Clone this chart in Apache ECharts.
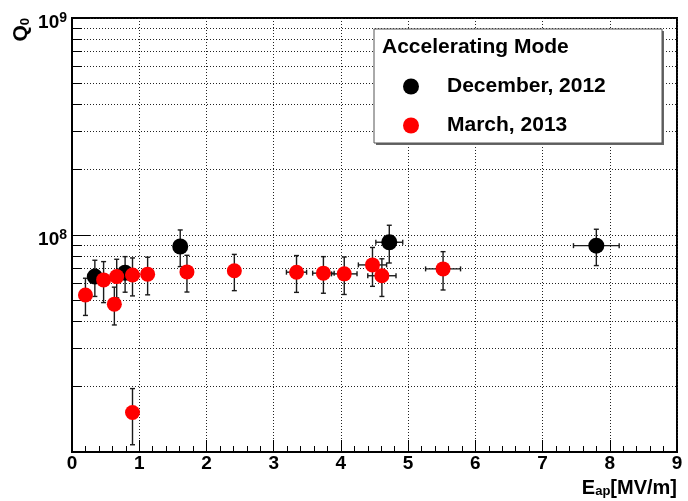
<!DOCTYPE html>
<html><head><meta charset="utf-8">
<script src="https://cdn.jsdelivr.net/npm/echarts@6/dist/echarts.min.js"></script>
<style>html,body{margin:0;padding:0;background:#fff}#c{width:688px;height:501px}</style>
</head><body><div id="c"></div>
<script>
// ---- data ----
const decName = 'December, 2012';
const decX = [0.34, 0.79, 1.61, 4.72, 7.80];
const decQ = [6.43e7, 6.7e7, 8.85e7, 9.26e7, 8.93e7];
const decXErr = [0, 0, 0, 0.20, 0.34];
const decQErr = [1.22e7, 1.25e7, 1.7e7, 1.83e7, 1.7e7];

const marName = 'March, 2013';
const marX = [0.20, 0.47, 0.63, 0.665, 0.90, 0.90, 1.125, 1.71, 2.415, 3.34, 3.74, 4.05, 4.47, 4.61, 5.52];
const marQ = [5.29e7, 6.21e7, 4.80e7, 6.43e7, 6.54e7, 1.52e7, 6.6e7, 6.76e7, 6.84e7, 6.74e7, 6.67e7, 6.62e7, 7.28e7, 6.49e7, 6.98e7];
const marXErr = [0, 0, 0, 0, 0, 0, 0, 0, 0, 0.15, 0.16, 0.19, 0.21, 0.21, 0.26];
const marQErr = [1.03e7, 1.33e7, 0.95e7, 1.3e7, 1.3e7, 0.44e7, 1.3e7, 1.3e7, 1.3e7, 1.3e7, 1.28e7, 1.3e7, 1.48e7, 1.28e7, 1.4e7];

const xMin = 0, xMax = 9, xInterval = 1;
const yMin = 1e7, yMax = 1e9;
const yMajorTicks = [1e8, 1e9];
const yMinorTicks = [2e7, 3e7, 4e7, 5e7, 6e7, 7e7, 8e7, 9e7, 2e8, 3e8, 4e8, 5e8, 6e8, 7e8, 8e8, 9e8];
const legendTitle = 'Accelerating Mode';

// ---- chart ----
const F = '"Liberation Sans", Arial, Helvetica, sans-serif';
const dotted = {color: '#222', width: 1, type: [1, 2]};

function errorBars(name, xs, ys, exs, eys) {
  return {
    type: 'custom', name: name, silent: true, z: 2,
    data: xs.map((x, i) => [x, ys[i], exs[i], eys[i]]),
    encode: {x: 0, y: 1},
    renderItem: function (params, api) {
      const x = api.value(0), y = api.value(1), ex = api.value(2), ey = api.value(3);
      const c = api.coord([x, y]);
      const t = api.coord([x, y + ey]);
      const b = api.coord([x, y - ey]);
      const st = () => ({stroke: '#1a1a1a', lineWidth: 1.4});
      const cap = 2.5;
      const ch = [
        {type: 'line', shape: {x1: c[0], y1: t[1], x2: c[0], y2: b[1]}, style: st()},
        {type: 'line', shape: {x1: c[0] - cap, y1: t[1], x2: c[0] + cap, y2: t[1]}, style: st()},
        {type: 'line', shape: {x1: c[0] - cap, y1: b[1], x2: c[0] + cap, y2: b[1]}, style: st()}
      ];
      if (ex > 0) {
        const l = api.coord([x - ex, y]), r = api.coord([x + ex, y]);
        ch.push({type: 'line', shape: {x1: l[0], y1: c[1], x2: r[0], y2: c[1]}, style: st()});
        ch.push({type: 'line', shape: {x1: l[0], y1: c[1] - cap, x2: l[0], y2: c[1] + cap}, style: st()});
        ch.push({type: 'line', shape: {x1: r[0], y1: c[1] - cap, x2: r[0], y2: c[1] + cap}, style: st()});
      }
      return {type: 'group', children: ch};
    }
  };
}

const chart = echarts.init(document.getElementById('c'), null, {renderer: 'canvas'});
chart.setOption({
  backgroundColor: '#fff',
  animation: false,
  grid: {left: 72, right: 11, top: 18, bottom: 49, show: true, borderColor: '#000', borderWidth: 2, backgroundColor: 'transparent'},
  xAxis: {
    type: 'value', min: xMin, max: xMax, interval: xInterval,
    axisLine: {show: true, onZero: false, lineStyle: {color: '#000', width: 2}},
    axisTick: {show: true, inside: true, length: 12, lineStyle: {color: '#000', width: 1}},
    minorTick: {show: true, splitNumber: 5, length: 6, lineStyle: {color: '#000', width: 1}},
    splitLine: {show: true, lineStyle: dotted},
    axisLabel: {color: '#000', fontFamily: F, fontWeight: 'bold', fontSize: 19, margin: 2}
  },
  yAxis: [{
    type: 'log', logBase: 10, min: yMin, max: yMax,
    axisLine: {show: true, lineStyle: {color: '#000', width: 2}},
    axisTick: {show: true, inside: true, length: 18, customValues: yMajorTicks, lineStyle: {color: '#000', width: 1}},
    splitLine: {show: true, lineStyle: dotted},
    axisLabel: {
      customValues: yMajorTicks, margin: 5, padding: [8, 0, 0, 0],
      formatter: function (v) { return '{b|10}{s|' + Math.round(Math.log10(v)) + '}'; },
      rich: {
        b: {fontFamily: F, fontWeight: 'bold', fontSize: 19, lineHeight: 21, verticalAlign: 'bottom', color: '#000'},
        s: {fontFamily: F, fontWeight: 'bold', fontSize: 14, lineHeight: 14, verticalAlign: 'top', color: '#000'}
      }
    }
  }, {
    type: 'log', logBase: 10, min: yMin, max: yMax, position: 'left',
    axisLine: {show: false},
    axisTick: {show: true, inside: true, length: 10, customValues: yMinorTicks, lineStyle: {color: '#000', width: 1}},
    splitLine: {show: true, lineStyle: dotted},
    axisLabel: {show: false}
  }],
  legend: {
    orient: 'vertical', left: 403, top: 76, itemWidth: 62, itemHeight: 16, itemGap: 18,
    icon: 'circle', selectedMode: false, z: 10, padding: 0,
    itemStyle: {opacity: 1},
    textStyle: {fontFamily: F, fontWeight: 'bold', fontSize: 21, color: '#000', lineHeight: 16},
    data: [decName, marName]
  },
  graphic: [
    {type: 'rect', z: 5, shape: {x: 376, y: 31, width: 288, height: 114}, style: {fill: '#666'}},
    {type: 'rect', z: 6, shape: {x: 374, y: 29, width: 288, height: 114}, style: {fill: '#fff', stroke: '#555', lineWidth: 1}},
    {type: 'text', z: 7, x: 382, y: 47, style: {text: legendTitle, fontFamily: F, fontWeight: 'bold', fontSize: 21, fill: '#000', verticalAlign: 'middle', align: 'left'}},
    {type: 'text', z: 7, x: 10.5, y: 18, rotation: Math.PI / 2, style: {
      text: '{q|Q}{s|0}', align: 'right', verticalAlign: 'top',
      rich: {
        q: {fontFamily: F, fontWeight: 'bold', fontSize: 21, lineHeight: 21, verticalAlign: 'top', fill: '#000'},
        s: {fontFamily: F, fontWeight: 'bold', fontSize: 13, lineHeight: 13, padding: [12, 0, 0, 0], verticalAlign: 'bottom', fill: '#000'}
      }}},
    {type: 'text', z: 7, x: 677, y: 478, style: {
      text: '{e|E}{s|ap}{e|[MV/m]}', align: 'right', verticalAlign: 'top',
      rich: {
        e: {fontFamily: F, fontWeight: 'bold', fontSize: 20, lineHeight: 20, verticalAlign: 'top', fill: '#000'},
        s: {fontFamily: F, fontWeight: 'bold', fontSize: 13, lineHeight: 13, padding: [8, 0, 0, 0], verticalAlign: 'bottom', fill: '#000'}
      }}}
  ],
  series: [
    errorBars('decErr', decX, decQ, decXErr, decQErr),
    {type: 'scatter', name: decName, z: 2, symbol: 'circle', symbolSize: 16, itemStyle: {color: '#000', opacity: 1},
     data: decX.map((x, i) => [x, decQ[i]])},
    errorBars('marErr', marX, marQ, marXErr, marQErr),
    {type: 'scatter', name: marName, z: 2, symbol: 'circle', symbolSize: 15, itemStyle: {color: '#ff0000', opacity: 1},
     data: marX.map((x, i) => [x, marQ[i]])}
  ]
});
</script></body></html>
